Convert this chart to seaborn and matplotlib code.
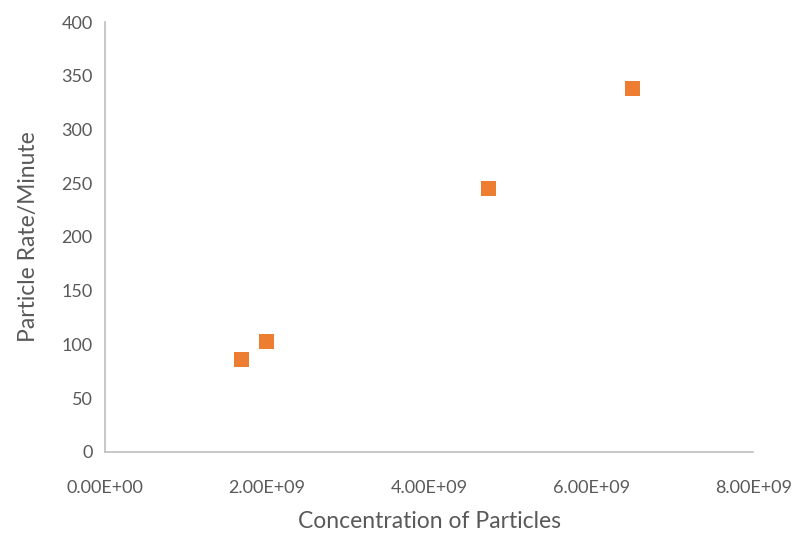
import pandas as pd
import matplotlib.pyplot as plt
import matplotlib.ticker as mticker
import seaborn as sns

# Values
concentration = [1.68e9, 1.99e9, 4.73e9, 6.51e9]
rate = [86, 103, 245, 338]
x_ticks = [0, 2e9, 4e9, 6e9, 8e9]
y_ticks = [0, 50, 100, 150, 200, 250, 300, 350, 400]

df = pd.DataFrame({'Concentration of Particles': concentration,
                   'Particle Rate/Minute': rate})

sns.set_style('white')
plt.rcParams['font.family'] = ['Lato', 'DejaVu Sans']

fig = plt.figure(figsize=(8.03, 5.38), dpi=100)
ax = fig.add_axes([0.131, 0.160, 0.807, 0.799])

sns.scatterplot(data=df, x='Concentration of Particles', y='Particle Rate/Minute',
                marker='s', s=110, color='#ED7D31', edgecolor='none', ax=ax)

ax.set_xlim(0, 8e9)
ax.set_ylim(0, 400)
ax.set_xticks(x_ticks)
ax.set_yticks(y_ticks)
ax.xaxis.set_major_formatter(mticker.FuncFormatter(lambda v, p: '{:.2E}'.format(v)))

sns.despine(ax=ax)
for side in ['left', 'bottom']:
    ax.spines[side].set_color('#BFBFBF')
    ax.spines[side].set_linewidth(1.2)
ax.tick_params(length=0, labelsize=13, labelcolor='#595959')
ax.tick_params(axis='x', pad=20)
ax.tick_params(axis='y', pad=9)
ax.set_xlabel('Concentration of Particles', fontsize=16.5, color='#595959', labelpad=11)
ax.set_ylabel('Particle Rate/Minute', fontsize=16.5, color='#595959', labelpad=16)

fig.savefig('out.png', dpi=100)
